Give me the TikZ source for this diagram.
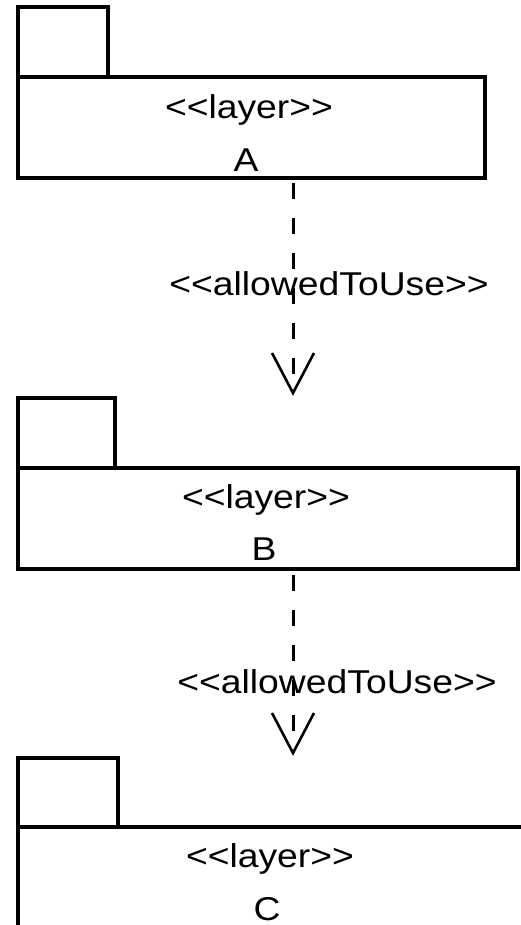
\documentclass[tikz,border=0pt]{standalone}
\usepackage{fontspec}
\usepackage{graphicx}
\setmainfont{Liberation Sans}
\newcommand\widetxt[1]{\scalebox{1.13}[1]{#1}}
\begin{document}
\begin{tikzpicture}[x=1pt,y=-1pt,
  pkg/.style={draw=black,line width=3.2pt,inner sep=0pt,outer sep=0pt,anchor=north west,rectangle},
  lbl/.style={anchor=base,inner sep=0pt,outer sep=0pt,font=\fontsize{33}{40}\selectfont},
  dep/.style={line width=3pt,dash pattern=on 16pt off 19pt},
  vhead/.style={line width=2.6pt,line join=miter}]
\useasboundingbox (0,0) rectangle (521,925);
\begin{scope}
\clip (0,0) rectangle (521,925);
% Package A
\node[pkg,minimum width=90pt,minimum height=70pt] (Atab) at (18,7) {};
\node[pkg,minimum width=467pt,minimum height=101pt] (A) at (18,77) {};
\node[lbl] (Alayer) at (249,119) {\widetxt{{<}{<}layer{>}{>}}};
\node[lbl] (Aname) at (246,172) {\widetxt{A}};
% Package B
\node[pkg,minimum width=97pt,minimum height=70pt] (Btab) at (18,398) {};
\node[pkg,minimum width=500pt,minimum height=101pt] (B) at (18,468) {};
\node[lbl] (Blayer) at (266,508) {\widetxt{{<}{<}layer{>}{>}}};
\node[lbl] (Bname) at (264,560) {\widetxt{B}};
% Package C
\node[pkg,minimum width=100pt,minimum height=69pt] (Ctab) at (18,758) {};
\node[pkg,minimum width=540pt,minimum height=140pt] (C) at (18,827) {};
\node[lbl] (Clayer) at (270,867) {\widetxt{{<}{<}layer{>}{>}}};
\node[lbl] (Cname) at (267,920) {\widetxt{C}};
\end{scope}
% Dependency A -> B
\coordinate (tipAB) at (293,393);
\draw[dep,dash phase=30pt] (A.south -| tipAB) -- (tipAB);
\draw[vhead] ([xshift=-21pt,yshift=40pt]tipAB) -- (tipAB) -- ([xshift=21pt,yshift=40pt]tipAB);
\node[lbl] (depAB) at (329,295) {\widetxt{{<}{<}allowedToUse{>}{>}}};
% Dependency B -> C
\coordinate (tipBC) at (293,753);
\draw[dep,dash phase=29pt] (B.south -| tipBC) -- (tipBC);
\draw[vhead] ([xshift=-21pt,yshift=40pt]tipBC) -- (tipBC) -- ([xshift=21pt,yshift=40pt]tipBC);
\node[lbl] (depBC) at (337,693) {\widetxt{{<}{<}allowedToUse{>}{>}}};
\end{tikzpicture}
\end{document}
